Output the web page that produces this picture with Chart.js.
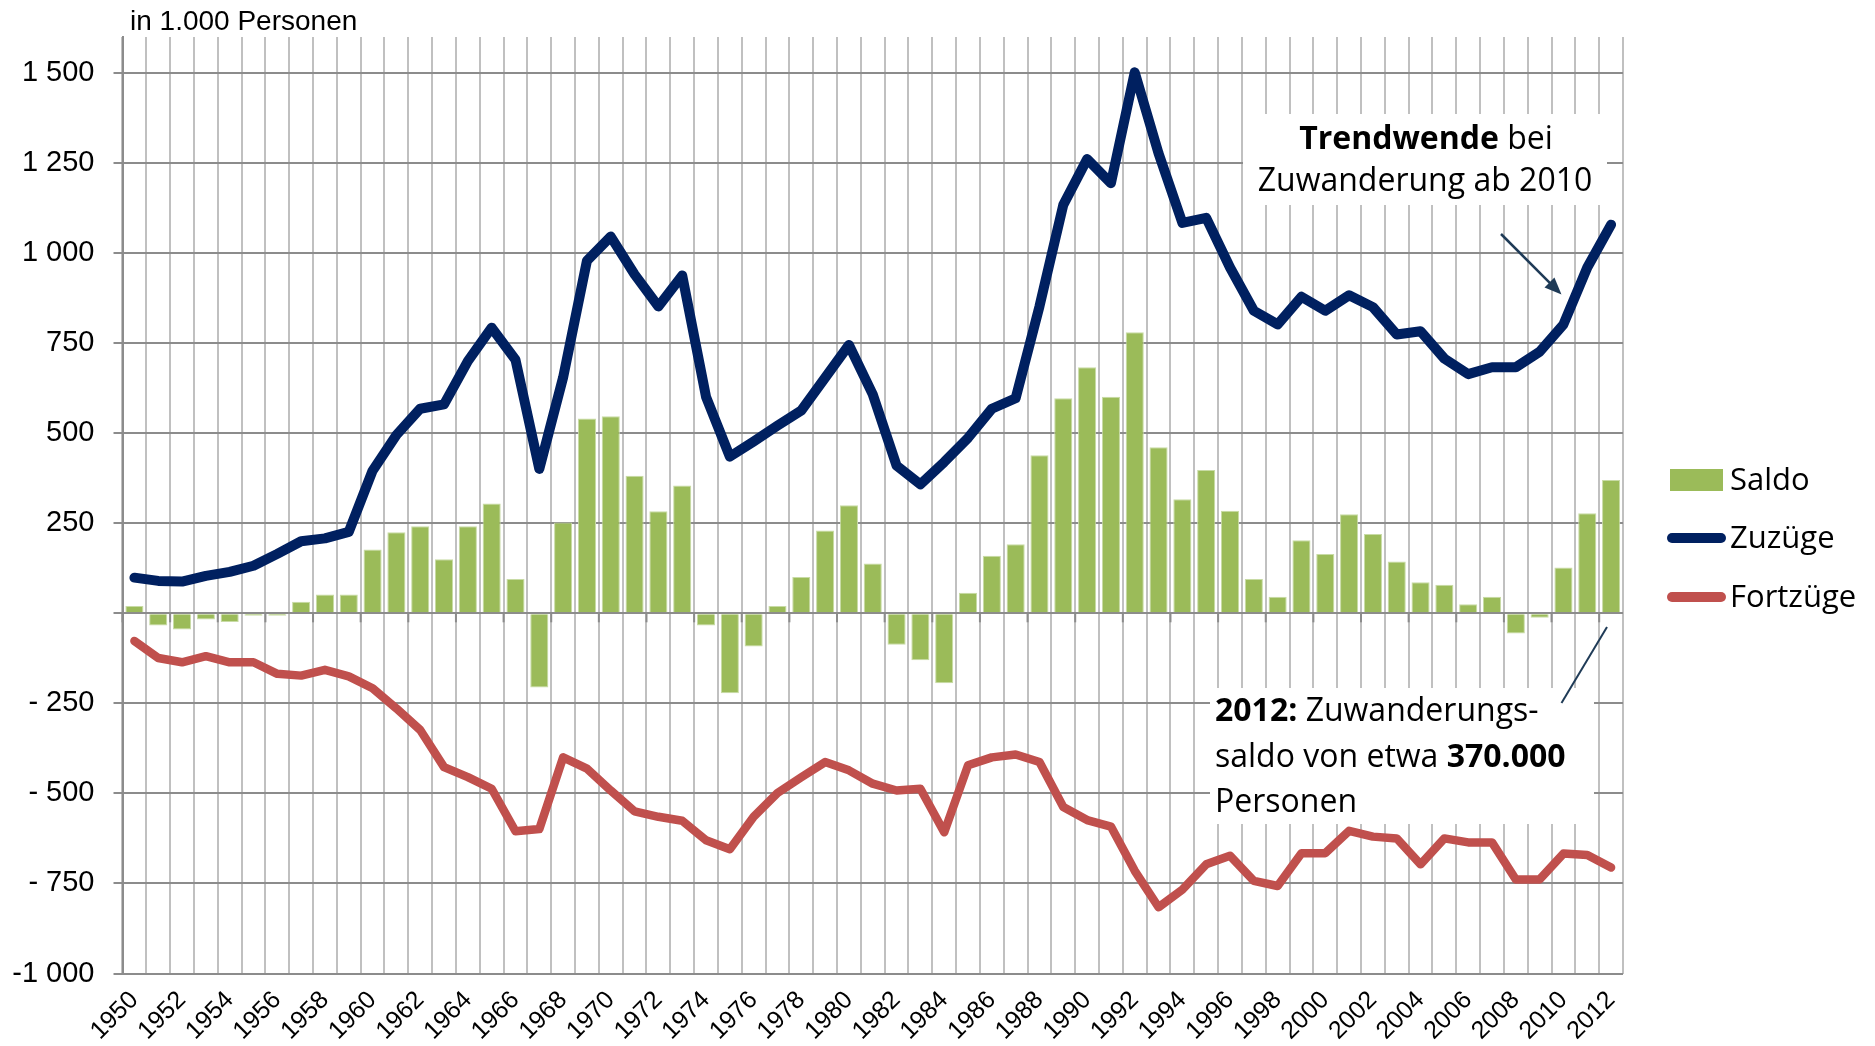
<!DOCTYPE html>
<html lang="de">
<head>
<meta charset="utf-8">
<title>Zuzüge und Fortzüge 1950–2012</title>
<script src="https://cdn.jsdelivr.net/npm/chart.js@4.4.1/dist/chart.umd.min.js"></script>
<style>
  html, body { margin: 0; padding: 0; background: #fff; }
  #wrap { width: 1875px; height: 1046px; }
</style>
</head>
<body>
<div id="wrap"><canvas id="chart" width="1875" height="1046"></canvas></div>
<script>
// Werte in 1.000 Personen
const years = [
  1950, 1951, 1952, 1953, 1954, 1955, 1956, 1957, 1958, 1959,
  1960, 1961, 1962, 1963, 1964, 1965, 1966, 1967, 1968, 1969,
  1970, 1971, 1972, 1973, 1974, 1975, 1976, 1977, 1978, 1979,
  1980, 1981, 1982, 1983, 1984, 1985, 1986, 1987, 1988, 1989,
  1990, 1991, 1992, 1993, 1994, 1995, 1996, 1997, 1998, 1999,
  2000, 2001, 2002, 2003, 2004, 2005, 2006, 2007, 2008, 2009,
  2010, 2011, 2012
];
const saldo = [
  20, -34, -45, -17, -24, -7, -7, 32, 52, 52,
  177, 225, 242, 150, 242, 305, 95, -206, 252, 541,
  547, 382, 283, 355, -34, -222, -92, 20, 101, 230,
  300, 138, -87, -130, -194, 57, 160, 192, 439, 597,
  683, 601, 780, 461, 317, 398, 285, 95, 46, 203,
  165, 275, 220, 144, 86, 79, 25, 46, -56, -12,
  127, 278, 370
];
const zuzuege = [
  99, 90, 88, 104, 115, 132, 165, 200, 208, 226,
  396, 495, 568, 580, 700, 793, 704, 401, 655, 979,
  1046, 941, 852, 938, 601, 435, 477, 521, 563, 654,
  745, 608, 410, 358, 420, 487, 568, 597, 852, 1134,
  1261, 1194, 1502, 1277, 1084, 1098, 960, 840, 802, 879,
  840, 883, 850, 774, 783, 707, 664, 683, 683, 726,
  802, 960, 1079
];
const fortzuege = [
  -77, -124, -136, -119, -136, -136, -168, -173, -157, -175,
  -208, -264, -324, -427, -455, -487, -605, -599, -400, -431,
  -492, -550, -565, -576, -630, -655, -565, -499, -455, -413,
  -436, -473, -492, -487, -608, -422, -400, -392, -413, -538,
  -574, -592, -715, -816, -767, -697, -673, -743, -757, -666,
  -666, -604, -620, -625, -697, -625, -636, -636, -739, -739,
  -667, -671, -706
];
const yTickValues = [-1000, -750, -500, -250, 0, 250, 500, 750, 1000, 1250, 1500];
const yTickLabels = ['-1 000', '- 750', '- 500', '- 250', '', '250', '500', '750', '1 000', '1 250', '1 500'];

const green = '#9BBB59', navy = '#002060', red = '#C0504D';
const gridDark = '#8C8C8C', gridLight = '#C0C0C0', noteInk = '#1F3B57';
const arialLike = '"Liberation Sans", Arial, sans-serif';
const calibriLike = '"Open Sans", "Noto Sans", sans-serif';

// Textzeile aus normalen und fetten Stücken
function drawRuns(ctx, runs, x, y, size, align) {
  const fontOf = bold => `${bold ? 700 : 400} ${size}px ${calibriLike}`;
  let total = 0;
  runs.forEach(([t, b]) => { ctx.font = fontOf(b); total += ctx.measureText(t).width; });
  let cx = align === 'center' ? x - total / 2 : x;
  ctx.textAlign = 'left';
  ctx.textBaseline = 'alphabetic';
  runs.forEach(([t, b]) => {
    ctx.font = fontOf(b);
    ctx.fillText(t, cx, y);
    cx += ctx.measureText(t).width;
  });
}

// Teilstriche an der Nulllinie und weiße Flächen hinter den Hinweisen
const backdrop = {
  id: 'backdrop',
  beforeDatasetsDraw(chart) {
    const {ctx, chartArea: a, scales: {x, y}} = chart;
    const y0 = y.getPixelForValue(0);
    const step = (x.right - x.left) / years.length;
    ctx.save();
    ctx.strokeStyle = gridDark;
    ctx.lineWidth = 2;
    for (let k = 0; k <= years.length; k += 2) {
      const px = x.left + k * step;
      ctx.beginPath();
      ctx.moveTo(px, y0);
      ctx.lineTo(px, y0 + 9);
      ctx.stroke();
    }
    ctx.fillStyle = '#fff';
    ctx.fillRect(a.right - 380, a.top + 77, 364, 91);
    ctx.fillRect(a.right - 413, a.top + 651, 384, 136);
    ctx.restore();
  }
};

// Überschrift, Hinweise mit Pfeil und Legende
const notes = {
  id: 'notes',
  afterDraw(chart) {
    const {ctx, chartArea: a} = chart;
    ctx.save();
    ctx.fillStyle = '#000';

    ctx.font = `28px ${arialLike}`;
    ctx.textBaseline = 'alphabetic';
    ctx.fillText('in 1.000 Personen', 130, 30);

    drawRuns(ctx, [['Trendwende', true], [' bei', false]], a.right - 197, a.top + 112, 32, 'center');
    drawRuns(ctx, [['Zuwanderung ab 2010', false]], a.right - 198, a.top + 154, 32, 'center');

    drawRuns(ctx, [['2012:', true], [' Zuwanderungs-', false]], a.right - 408, a.top + 684, 32, 'left');
    drawRuns(ctx, [['saldo von etwa ', false], ['370.000', true]], a.right - 408, a.top + 730, 32, 'left');
    drawRuns(ctx, [['Personen', false]], a.right - 408, a.top + 775, 32, 'left');

    // Pfeil zur Trendwende
    const x1 = a.right - 122, y1 = a.top + 197, x2 = a.right - 61.5, y2 = a.top + 257.5;
    const ang = Math.atan2(y2 - y1, x2 - x1);
    ctx.strokeStyle = noteInk;
    ctx.fillStyle = noteInk;
    ctx.lineWidth = 2.5;
    ctx.beginPath();
    ctx.moveTo(x1, y1);
    ctx.lineTo(x2 - 12 * Math.cos(ang), y2 - 12 * Math.sin(ang));
    ctx.stroke();
    ctx.beginPath();
    ctx.moveTo(x2, y2);
    ctx.lineTo(x2 - 17 * Math.cos(ang) + 7 * Math.sin(ang), y2 - 17 * Math.sin(ang) - 7 * Math.cos(ang));
    ctx.lineTo(x2 - 17 * Math.cos(ang) - 7 * Math.sin(ang), y2 - 17 * Math.sin(ang) + 7 * Math.cos(ang));
    ctx.closePath();
    ctx.fill();

    // Verbindungslinie zum Saldo 2012
    ctx.lineWidth = 2;
    ctx.beginPath();
    ctx.moveTo(a.right - 16, a.top + 590);
    ctx.lineTo(a.right - 61.5, a.top + 666);
    ctx.stroke();

    // Legende
    const lx = a.right + 47, tx = a.right + 107;
    const rows = [a.top + 443, a.top + 501, a.top + 560];
    chart.data.datasets.forEach((ds, i) => {
      const cy = rows[i];
      if (ds.type === 'bar') {
        ctx.fillStyle = ds.backgroundColor;
        ctx.fillRect(lx, cy - 11, 53, 22);
      } else {
        ctx.strokeStyle = ds.borderColor;
        ctx.lineWidth = 10;
        ctx.lineCap = 'round';
        ctx.beginPath();
        ctx.moveTo(lx + 2, cy);
        ctx.lineTo(lx + 51, cy);
        ctx.stroke();
      }
      ctx.fillStyle = '#000';
      ctx.font = `31px ${calibriLike}`;
      ctx.textBaseline = 'middle';
      ctx.fillText(ds.label, tx, cy + 1);
    });
    ctx.restore();
  }
};

new Chart(document.getElementById('chart'), {
  data: {
    labels: years,
    datasets: [
      { type: 'bar', label: 'Saldo', data: saldo, backgroundColor: green, borderColor: '#C8DBA5', borderWidth: 1,
        barPercentage: 0.76, categoryPercentage: 1, order: 3 },
      { type: 'line', label: 'Zuzüge', data: zuzuege, borderColor: navy, borderWidth: 10, pointRadius: 0,
        borderJoinStyle: 'round', borderCapStyle: 'round', tension: 0, order: 1 },
      { type: 'line', label: 'Fortzüge', data: fortzuege, borderColor: red, borderWidth: 8.5, pointRadius: 0,
        borderJoinStyle: 'round', borderCapStyle: 'round', tension: 0, order: 2 }
    ]
  },
  options: {
    responsive: false,
    animation: false,
    devicePixelRatio: 1,
    layout: { padding: { top: 37, right: 252, left: 0, bottom: 0 } },
    plugins: { legend: { display: false }, tooltip: { enabled: false } },
    scales: {
      x: {
        offset: true,
        grid: { offset: true, color: gridLight, lineWidth: 2, drawTicks: false },
        border: { display: false },
        ticks: {
          autoSkip: false, minRotation: 45, maxRotation: 45, padding: 12, color: '#000',
          font: { family: arialLike, size: 25 },
          callback: (v, i) => i % 2 === 0 ? String(years[i]) : ''
        },
        afterFit: s => { s.height = 72.5; }
      },
      y: {
        min: -1000, max: 1600,
        grid: { color: gridDark, lineWidth: 2, tickLength: 9 },
        border: { color: gridDark, width: 2 },
        ticks: {
          padding: 19, color: '#000', font: { family: arialLike, size: 29 },
          callback: v => { const k = yTickValues.indexOf(v); return k >= 0 ? yTickLabels[k] : ''; }
        },
        afterBuildTicks: s => { s.ticks = yTickValues.map(v => ({ value: v })); },
        afterFit: s => { s.width = 122.5; }
      }
    }
  },
  plugins: [backdrop, notes]
});
</script>
</body>
</html>
